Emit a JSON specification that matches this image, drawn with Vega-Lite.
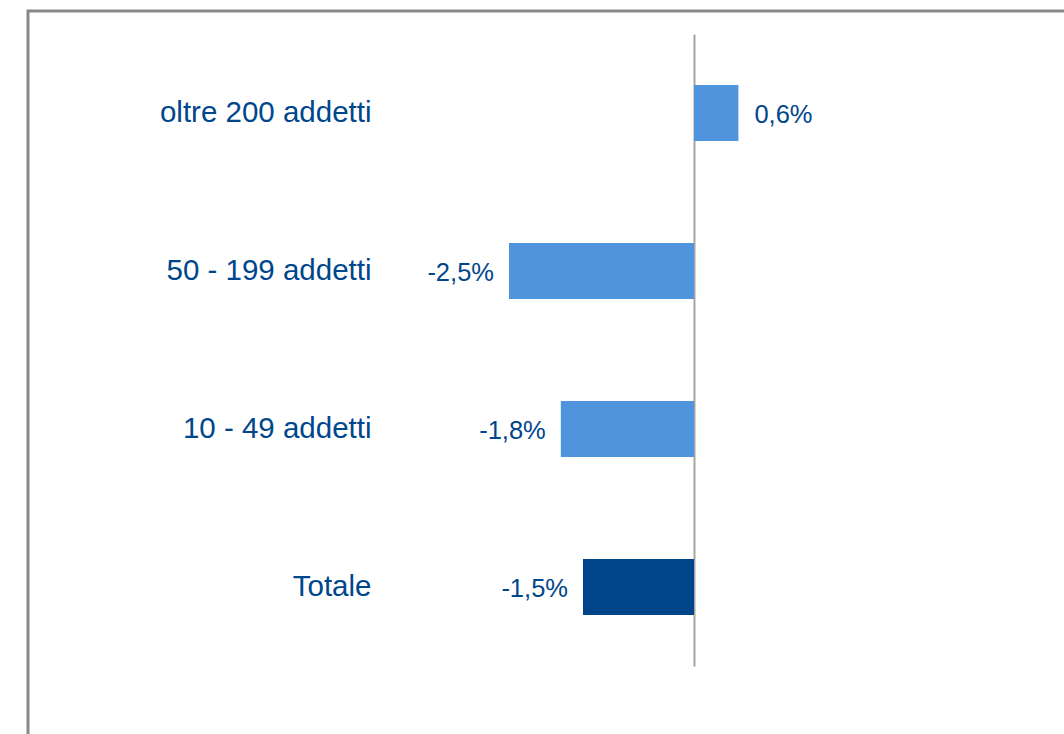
{
  "$schema": "https://vega.github.io/schema/vega-lite/v6.json",
  "width": 1040,
  "height": 740,
  "autosize": {"type": "none"},
  "padding": {"left": 28, "top": 11, "right": 0, "bottom": 0},
  "background": "white",
  "config": {
    "view": {"stroke": "#888888", "strokeWidth": 3},
    "font": "Liberation Sans",
    "locale": {"number": {"decimal": ",", "thousands": ".", "grouping": [3], "currency": ["€", ""], "minus": "-"}}
  },
  "data": {
    "values": [
      {"categoria": "oltre 200 addetti", "valore": 0.006, "tipo": "classe"},
      {"categoria": "50 - 199 addetti", "valore": -0.025, "tipo": "classe"},
      {"categoria": "10 - 49 addetti", "valore": -0.018, "tipo": "classe"},
      {"categoria": "Totale", "valore": -0.015, "tipo": "totale"}
    ]
  },
  "encoding": {
    "y": {
      "field": "categoria",
      "type": "nominal",
      "sort": null,
      "scale": {"range": [23, 655], "paddingInner": 0.6456, "paddingOuter": 0.3228},
      "axis": {
        "title": null,
        "orient": "left",
        "offset": -666,
        "ticks": false,
        "tickSize": 0,
        "labelPadding": 323,
        "labelAlign": "right",
        "labelLimit": 0,
        "labelFontSize": 29.5,
        "labelColor": "#00468C",
        "labelFont": "Liberation Sans",
        "domainColor": "#A6A69E",
        "domainWidth": 2,
        "grid": false
      }
    },
    "x": {
      "field": "valore",
      "type": "quantitative",
      "scale": {"domain": [-0.09, 0.05054], "nice": false, "zero": false},
      "axis": null
    }
  },
  "layer": [
    {
      "mark": {"type": "bar"},
      "encoding": {
        "color": {
          "field": "tipo",
          "type": "nominal",
          "scale": {"domain": ["classe", "totale"], "range": ["#4F94DC", "#00448A"]},
          "legend": null
        }
      }
    },
    {
      "transform": [{"filter": "datum.valore >= 0"}],
      "mark": {"type": "text", "align": "left", "baseline": "middle", "dx": 16, "dy": 2, "fontSize": 25.5, "color": "#00468C"},
      "encoding": {"text": {"field": "valore", "type": "quantitative", "format": ".1%"}}
    },
    {
      "transform": [{"filter": "datum.valore < 0"}],
      "mark": {"type": "text", "align": "right", "baseline": "middle", "dx": -15, "dy": 2, "fontSize": 25.5, "color": "#00468C"},
      "encoding": {"text": {"field": "valore", "type": "quantitative", "format": ".1%"}}
    }
  ]
}
